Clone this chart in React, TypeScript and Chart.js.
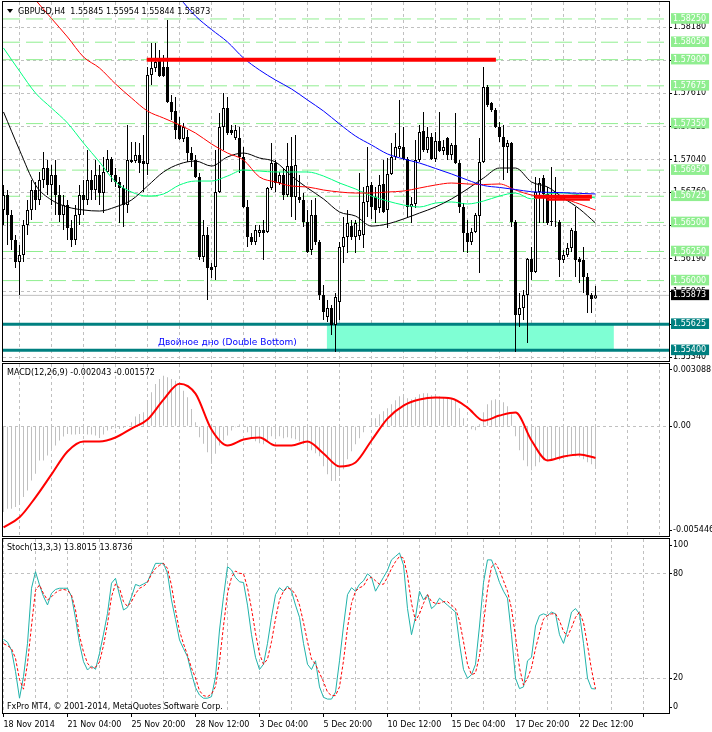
import React, { useEffect, useRef } from 'react';
import { Chart, registerables } from 'chart.js';

Chart.register(...registerables);

// ----------------------------- data -----------------------------
const SYMBOL = 'GBPUSD,H4';

const OPEN = [
  1.56607, 1.56736, 1.56564, 1.56349, 1.56160, 1.56220, 1.56478, 1.56607, 1.56779, 1.56693,
  1.56865, 1.56968, 1.56822, 1.56908, 1.56736, 1.56564, 1.56650, 1.56452, 1.56349, 1.56564,
  1.56736, 1.56693, 1.56865, 1.56779, 1.56908, 1.56753, 1.56934, 1.57046, 1.56908, 1.56848,
  1.56796, 1.56650, 1.57037, 1.57028, 1.57080, 1.57028, 1.57003, 1.57768, 1.57828, 1.57897,
  1.57837, 1.57837, 1.57536, 1.57458, 1.57338, 1.57218, 1.57235, 1.57097, 1.57037, 1.56891,
  1.56203, 1.56392, 1.56117, 1.56117, 1.56762, 1.57321, 1.57484, 1.57295, 1.57226, 1.57226,
  1.57063, 1.56633, 1.56375, 1.56332, 1.56409, 1.56435, 1.56418, 1.56796, 1.57011, 1.56839,
  1.56908, 1.56736, 1.56985, 1.56719, 1.56719, 1.56693, 1.56504, 1.56263, 1.56564, 1.56332,
  1.55876, 1.55687, 1.55764, 1.55618, 1.55816, 1.56289, 1.56375, 1.56469, 1.56375, 1.56383,
  1.56392, 1.56676, 1.56822, 1.56719, 1.56624, 1.56831, 1.56607, 1.56917, 1.57063, 1.57132,
  1.57149, 1.57046, 1.56633, 1.56659, 1.57037, 1.57286, 1.57123, 1.57235, 1.57046, 1.57200,
  1.57114, 1.57226, 1.57080, 1.57166, 1.57011, 1.56633, 1.56409, 1.56332, 1.56418, 1.56555,
  1.57020, 1.57665, 1.57527, 1.57467, 1.57321, 1.57235, 1.57149, 1.57183, 1.56504, 1.55704,
  1.55764, 1.55876, 1.56186, 1.56074, 1.56762, 1.56882, 1.56745, 1.56512, 1.56504, 1.56504,
  1.56177, 1.56220, 1.56280, 1.56426, 1.56186, 1.56177, 1.56031, 1.55876, 1.55845,
];
const HIGH = [
  1.56822, 1.56779, 1.56607, 1.56392, 1.56306, 1.56521, 1.56693, 1.56865, 1.56848, 1.56934,
  1.57106, 1.57037, 1.56994, 1.57037, 1.56822, 1.56736, 1.56693, 1.56521, 1.56650, 1.56822,
  1.56865, 1.57123, 1.56951, 1.57037, 1.56994, 1.57063, 1.57123, 1.57063, 1.56968, 1.56891,
  1.56822, 1.57338, 1.57192, 1.57192, 1.57183, 1.57252, 1.57837, 1.58043, 1.58043, 1.57983,
  1.57940, 1.58241, 1.57596, 1.57579, 1.57407, 1.57355, 1.57295, 1.57149, 1.57080, 1.56925,
  1.56521, 1.56461, 1.56151, 1.57123, 1.57441, 1.57613, 1.57579, 1.57338, 1.57338, 1.57321,
  1.57149, 1.56693, 1.56409, 1.56478, 1.56478, 1.56521, 1.56805, 1.57183, 1.57037, 1.56934,
  1.56968, 1.57183, 1.57235, 1.57252, 1.56908, 1.56753, 1.56607, 1.56693, 1.56710, 1.56349,
  1.55962, 1.55833, 1.55790, 1.55893, 1.56332, 1.56547, 1.56607, 1.56521, 1.56521, 1.56925,
  1.56805, 1.57149, 1.56848, 1.56805, 1.56908, 1.57037, 1.57054, 1.57183, 1.57269, 1.57553,
  1.57321, 1.57063, 1.56719, 1.57209, 1.57338, 1.57450, 1.57321, 1.57269, 1.57278, 1.57450,
  1.57209, 1.57235, 1.57183, 1.57441, 1.57037, 1.56667, 1.56521, 1.56452, 1.56581, 1.57226,
  1.57837, 1.57682, 1.57536, 1.57484, 1.57364, 1.57338, 1.57209, 1.57192, 1.56521, 1.55893,
  1.55919, 1.56194, 1.56289, 1.56891, 1.56882, 1.56908, 1.56805, 1.56977, 1.56891, 1.56521,
  1.56263, 1.56323, 1.56452, 1.56633, 1.56203, 1.56289, 1.56065, 1.55893, 1.55954,
];
const LOW = [
  1.56478, 1.56306, 1.56263, 1.56108, 1.55876, 1.56160, 1.56392, 1.56521, 1.56607, 1.56650,
  1.56796, 1.56736, 1.56650, 1.56564, 1.56504, 1.56435, 1.56349, 1.56289, 1.56306, 1.56478,
  1.56564, 1.56650, 1.56693, 1.56693, 1.56650, 1.56581, 1.56925, 1.56848, 1.56805, 1.56495,
  1.56461, 1.56581, 1.57011, 1.57011, 1.56925, 1.56762, 1.56908, 1.57682, 1.57794, 1.57751,
  1.57751, 1.57527, 1.57381, 1.57218, 1.57209, 1.57192, 1.57020, 1.56977, 1.56882, 1.56177,
  1.56160, 1.55833, 1.56022, 1.56005, 1.56753, 1.57123, 1.57252, 1.57252, 1.57209, 1.56925,
  1.56624, 1.56289, 1.56306, 1.56306, 1.56375, 1.56177, 1.56409, 1.56779, 1.56762, 1.56822,
  1.56693, 1.56719, 1.56547, 1.56521, 1.56667, 1.56461, 1.56237, 1.56220, 1.56306, 1.55833,
  1.55661, 1.55644, 1.55532, 1.55386, 1.55661, 1.56151, 1.56237, 1.56349, 1.56237, 1.56349,
  1.56280, 1.56547, 1.56530, 1.56495, 1.56581, 1.56581, 1.56452, 1.56908, 1.57037, 1.57063,
  1.57037, 1.56547, 1.56495, 1.56624, 1.57020, 1.57106, 1.57097, 1.57037, 1.57020, 1.57106,
  1.57080, 1.57037, 1.57037, 1.57003, 1.56581, 1.56246, 1.56237, 1.56306, 1.56409, 1.56065,
  1.57011, 1.57493, 1.57450, 1.57312, 1.57192, 1.56865, 1.56925, 1.56461, 1.55386, 1.55601,
  1.55661, 1.55463, 1.56005, 1.56065, 1.56495, 1.56495, 1.56478, 1.56469, 1.56461, 1.56031,
  1.56151, 1.56203, 1.56246, 1.56031, 1.55979, 1.55893, 1.55721, 1.55721, 1.55844,
];
const CLOSE = [
  1.56736, 1.56564, 1.56349, 1.56160, 1.56220, 1.56478, 1.56607, 1.56779, 1.56693, 1.56865,
  1.56968, 1.56822, 1.56908, 1.56736, 1.56564, 1.56650, 1.56452, 1.56349, 1.56564, 1.56736,
  1.56693, 1.56865, 1.56779, 1.56908, 1.56753, 1.56934, 1.57046, 1.56908, 1.56848, 1.56796,
  1.56650, 1.57037, 1.57020, 1.57080, 1.57011, 1.57003, 1.57768, 1.57828, 1.57880, 1.57759,
  1.57759, 1.57536, 1.57450, 1.57295, 1.57218, 1.57321, 1.57097, 1.57037, 1.56891, 1.56203,
  1.56392, 1.56108, 1.56091, 1.56762, 1.57321, 1.57484, 1.57269, 1.57269, 1.57295, 1.57063,
  1.56633, 1.56375, 1.56332, 1.56435, 1.56435, 1.56409, 1.56796, 1.57011, 1.56839, 1.56908,
  1.56736, 1.56985, 1.56719, 1.56994, 1.56693, 1.56504, 1.56246, 1.56564, 1.56332, 1.55876,
  1.55730, 1.55764, 1.55618, 1.55859, 1.56289, 1.56375, 1.56495, 1.56375, 1.56495, 1.56435,
  1.56676, 1.56813, 1.56633, 1.56607, 1.56822, 1.56590, 1.56917, 1.57063, 1.57149, 1.57157,
  1.57046, 1.56633, 1.56659, 1.57037, 1.57278, 1.57123, 1.57235, 1.57046, 1.57200, 1.57114,
  1.57149, 1.57080, 1.57166, 1.57011, 1.56633, 1.56409, 1.56332, 1.56418, 1.56564, 1.57020,
  1.57665, 1.57510, 1.57467, 1.57321, 1.57235, 1.57149, 1.57183, 1.56504, 1.55704, 1.55764,
  1.55876, 1.56186, 1.56074, 1.56762, 1.56839, 1.56745, 1.56495, 1.56504, 1.56508, 1.56177,
  1.56220, 1.56280, 1.56435, 1.56177, 1.56160, 1.56031, 1.55876, 1.55842, 1.55873,
];

// moving averages, one reading every MA_STEP bars (null = above the window)
const MA_STEP = 4;
const MA_BLUE = [
  null, null, null, null, null, null, null, null, null, null, null,
  1.58430, 1.58275, 1.58159, 1.58052, 1.57914, 1.57811, 1.57725, 1.57648, 1.57553, 1.57458,
  1.57347, 1.57243, 1.57166, 1.57089, 1.57046, 1.57011, 1.56964, 1.56917, 1.56865, 1.56818,
  1.56801, 1.56783, 1.56764, 1.56759, 1.56756, 1.56750, 1.56745,
];
const MA_RED = [
  null, null,
  1.58413, 1.58254, 1.58095, 1.57923, 1.57828, 1.57691, 1.57570, 1.57458, 1.57398, 1.57338,
  1.57269, 1.57175, 1.57097, 1.57037, 1.56891, 1.56848, 1.56813, 1.56805, 1.56779, 1.56762,
  1.56753, 1.56753, 1.56762, 1.56770, 1.56796, 1.56822, 1.56839, 1.56831, 1.56826, 1.56831,
  1.56779, 1.56736, 1.56719, 1.56702, 1.56659, 1.56607,
];
const MA_GREEN = [
  1.58000, 1.57802, 1.57613, 1.57484, 1.57355, 1.57183, 1.57020, 1.56848, 1.56762, 1.56727,
  1.56745, 1.56822, 1.56856, 1.56856, 1.56899, 1.56951, 1.56942, 1.56934, 1.56934, 1.56934,
  1.56899, 1.56839, 1.56788, 1.56727, 1.56684, 1.56650, 1.56633, 1.56667, 1.56676, 1.56659,
  1.56684, 1.56727, 1.56753, 1.56702, 1.56745, 1.56753, 1.56736, 1.56710,
];
const MA_BLACK = [
  1.57450, 1.57123, 1.56822, 1.56693, 1.56633, 1.56607, 1.56598, 1.56633, 1.56693, 1.56813,
  1.56934, 1.57003, 1.57028, 1.56985, 1.57063, 1.57097, 1.57054, 1.57020, 1.56899, 1.56796,
  1.56702, 1.56590, 1.56555, 1.56469, 1.56487, 1.56530, 1.56581, 1.56633, 1.56702, 1.56788,
  1.56882, 1.56968, 1.56968, 1.56848, 1.56805, 1.56710, 1.56616, 1.56495,
];

// horizontal levels and objects
const GREEN_LEVELS = [1.5825, 1.5805, 1.579, 1.57675, 1.5735, 1.5695, 1.56725, 1.565, 1.5625, 1.56];
const TEAL_LEVELS = [1.55625, 1.554];
const LAST_PRICE = 1.55873;
const PRICE_GRID_TICKS = [1.5818, 1.57895, 1.5761, 1.57325, 1.5704, 1.5676, 1.56475, 1.5619, 1.55905, 1.5562, 1.5534];
const RED_LINES = [
  { from: 35.8, to: 123.1, price: 1.579 },
  { from: 132.8, to: 147.1, price: 1.5672 },
  { from: 135.8, to: 146.6, price: 1.56695 },
];
const ZONE = { from: 80.8, to: 152.6, top: 1.55625, bottom: 1.554 };
const ZONE_TEXT = 'Двойное дно (Double Bottom)';

// MACD (12,26,9): main per bar, signal every MA_STEP bars
const MACD_MAIN = [
  -0.004257, -0.004092, -0.004092, -0.00401, -0.003845, -0.003515, -0.003185, -0.00269, -0.00236, -0.0017,
  -0.0017, -0.001452, -0.001205, -0.000957, -0.00071, -0.000512, -0.00038, -0.000413, -0.000413, -0.00038,
  -0.00038, -0.000413, -0.000413, -0.000462, -0.000578, -0.000413, -0.000215, -0.000132, -0.0001, -0.000132,
  -0.000083, 0.000033, 0.000198, 0.000479, 0.000611, 0.000693, 0.001271, 0.001683, 0.002096, 0.002343,
  0.002508, 0.002426, 0.002343, 0.002261, 0.002096, 0.001766, 0.001436, 0.000858, 0.000198, -0.000545,
  -0.000875, -0.001287, -0.001865, -0.00137, -0.000957, -0.00071, -0.000462, -0.000215, -0.00005, 0.000083,
  0, -0.000297, -0.000594, -0.000743, -0.000842, -0.000891, -0.000743, -0.000495, -0.000495, -0.000495,
  -0.000594, -0.000545, -0.000594, -0.000644, -0.000743, -0.000891, -0.001089, -0.001188, -0.001337, -0.001485,
  -0.00198, -0.002376, -0.002723, -0.002723, -0.002475, -0.002129, -0.001634, -0.001238, -0.000891, -0.000594,
  -0.000297, 0, 0.000248, 0.000396, 0.000594, 0.000743, 0.000891, 0.001089, 0.001287, 0.001485,
  0.001535, 0.001386, 0.001337, 0.001436, 0.001584, 0.001634, 0.001634, 0.001535, 0.001485, 0.001485,
  0.001436, 0.001386, 0.001386, 0.001337, 0.000891, 0.000396, 0.00005, -0.000149, -0.000198, 0.000099,
  0.000693, 0.001089, 0.001287, 0.001337, 0.001287, 0.001188, 0.00099, 0.000594, -0.000495, -0.001188,
  -0.001683, -0.00198, -0.002178, -0.00198, -0.001782, -0.001683, -0.001683, -0.001634, -0.001584, -0.001683,
  -0.001634, -0.001535, -0.001386, -0.001485, -0.001535, -0.001634, -0.001782, -0.001881, -0.002043,
];
const MACD_SIGNAL = [
  -0.005014, -0.004519, -0.003529, -0.002391, -0.001252, -0.000757, -0.000757, -0.000559, -0.000114, 0.000332,
  0.001322, 0.002114, 0.001619, -0.000163, -0.000955, -0.000658, -0.000559, -0.000955, -0.000955, -0.000757,
  -0.001351, -0.001995, -0.001797, -0.000708, 0.000381, 0.001025, 0.001322, 0.001421, 0.001371, 0.000926,
  0.000282, 0.00053, 0.000678, -0.000708, -0.001698, -0.0015, -0.001401, -0.001572,
];
const MACD_RANGE = { max: 0.003088, min: -0.005446 };

// Stochastic (13,3,3)
const STOCH_K = [
  42.3, 40.7, 36.0, 23.9, 8.5, 20.9, 40.0, 71.7, 81.2, 73.6,
  66.9, 62.1, 68.8, 71.0, 71.7, 71.7, 71.7, 66.9, 54.5, 40.0,
  29.5, 24.7, 27.0, 25.1, 34.3, 45.3, 57.3, 74.6, 77.4, 67.8,
  59.2, 60.7, 66.8, 73.9, 73.0, 74.2, 75.4, 80.7, 86.0, 86.0,
  86.0, 80.3, 64.9, 53.7, 42.0, 37.0, 32.3, 22.8, 14.6, 10.3,
  8.5, 8.5, 9.4, 20.9, 47.7, 66.8, 84.1, 82.2, 77.9, 75.4,
  75, 62, 45, 32, 25, 28, 40, 55, 68, 72,
  70, 73, 70, 62, 55, 40, 28, 25, 30, 15,
  9, 8, 8, 12, 30, 50, 68, 72, 70, 74,
  76, 80, 78, 70, 74, 78, 82, 88, 90, 92,
  85, 60, 45, 55, 70, 65, 68, 60, 62, 66,
  64, 62, 60, 58, 40, 25, 20, 22, 28, 50,
  75, 88, 88, 82, 75, 70, 66, 45, 20, 14,
  15, 30, 32, 50, 56, 57, 56, 58, 57, 45,
  40, 48, 58, 60, 57, 40, 20, 14, 13.8015,
];
const STOCH_D = [
  39.8, 38.8, 37.0, 31.4, 19.3, 13.7, 28.6, 50.0, 70.5, 73.6,
  68.6, 64.9, 66.8, 69.1, 70.5, 71.0, 70.5, 67.7, 59.3, 44.4,
  35.1, 28.6, 25.8, 26.3, 29.3, 38.8, 51.3, 66.8, 74.2, 71.7,
  64.0, 61.2, 64.0, 68.6, 71.7, 72.8, 75.1, 79.8, 83.1, 84.9,
  86.0, 83.1, 73.3, 59.3, 47.2, 39.8, 33.2, 25.8, 20.2, 12.8,
  10.0, 9.4, 10.9, 15.2, 29.5, 50.0, 68.6, 77.9, 81.6, 80.3,
  80, 72, 60, 46, 34, 28, 31, 41, 54, 65,
  70, 72, 71, 68, 62, 52, 41, 31, 28, 23,
  18, 12, 10, 10, 15, 30, 49, 63, 70, 72,
  73, 77, 78, 76, 74, 74, 78, 83, 87, 90,
  89, 79, 63, 53, 57, 63, 68, 64, 63, 63,
  64, 64, 62, 60, 53, 41, 28, 22, 23, 33,
  51, 71, 84, 86, 82, 76, 70, 60, 44, 26,
  16, 20, 26, 37, 46, 54, 56, 57, 57, 53,
  47, 44, 49, 55, 58, 52, 39, 25, 13.8736,
];
const STOCH_LABELS = ['100', '80', '20', '0'];

// time axis labels, one every LABEL_EVERY bars
const LABEL_EVERY = 16;
const GRID_EVERY = 8;
const X_LABELS = [
  '18 Nov 2014', '21 Nov 04:00', '25 Nov 20:00', '28 Nov 12:00', '3 Dec 04:00',
  '5 Dec 20:00', '10 Dec 12:00', '15 Dec 04:00', '17 Dec 20:00', '22 Dec 12:00',
];

// ----------------------------- layout -----------------------------
const W = 712;
const PLOT_LEFT = 3;
const AXIS_W = 43;
const BAR_PX = 4;
const X_MIN = -0.125;
const X_MAX = X_MIN + (W - PLOT_LEFT - AXIS_W) / BAR_PX;
const MAIN_TOP = 2, MAIN_H = 359;
const P_MAX = 1.583958;
const P_MIN = 1.553084;
const MACD_H = 172;
const STOCH_H = 174;
const FONT = { family: 'DejaVu Sans', size: 8 };
const GRID_COLOR = '#c0c0c0';
const CLEAR = 'rgba(0,0,0,0)';

const framePlugin = {
  id: 'frame',
  afterDraw(chart: any) {
    const { ctx, chartArea } = chart;
    ctx.save();
    ctx.strokeStyle = '#000';
    ctx.lineWidth = 1;
    ctx.strokeRect(chartArea.left - 0.5, chartArea.top - 0.5, chartArea.right - chartArea.left + 1, chartArea.bottom - chartArea.top + 1);
    ctx.restore();
  },
};

function xScale(showLabels: boolean): any {
  const gridIdx: number[] = [];
  for (let v = 0; v <= X_MAX; v += GRID_EVERY) gridIdx.push(v);
  return {
    type: 'linear',
    min: X_MIN,
    max: X_MAX,
    offset: false,
    afterBuildTicks: (s: any) => { s.ticks = gridIdx.map((v) => ({ value: v })); },
    afterFit: (s: any) => { s.height = showLabels ? 19 : 0; s.paddingLeft = 0; s.paddingRight = 0; },
    ticks: {
      display: showLabels,
      autoSkip: false,
      maxRotation: 0,
      minRotation: 0,
      align: 'start',
      padding: 3,
      color: '#000',
      font: FONT,
      callback: (v: number) => (v % LABEL_EVERY === 0 ? X_LABELS[v / LABEL_EVERY] ?? '' : ''),
    },
    grid: {
      color: GRID_COLOR,
      lineWidth: 1,
      drawTicks: showLabels,
      tickLength: 4,
      tickBorderDash: [],
      tickColor: (c: any) => (c.tick && c.tick.value % LABEL_EVERY === 0 ? '#000' : CLEAR),
    },
    border: { display: false, dash: [3, 3] },
  };
}

function yAxisBase(): any {
  return {
    position: 'right',
    afterFit: (s: any) => { s.width = AXIS_W; s.paddingTop = 0; s.paddingBottom = 0; },
    border: { display: false, dash: [3, 3] },
  };
}

const baseOptions: any = {
  responsive: false,
  animation: false,
  events: [],
  plugins: { legend: { display: false }, tooltip: { enabled: false } },
};

const hline = (price: number, from: number, to: number) => [{ x: from, y: price }, { x: to, y: price }];
const stepped = (vals: (number | null)[]) =>
  vals.map((v, k) => (v == null ? null : { x: k * MA_STEP, y: v })).filter(Boolean);

function mainConfig(): any {
  const tickKinds = [
    ...PRICE_GRID_TICKS.map((v) => ({ value: v, kind: 'grid' })),
    ...GREEN_LEVELS.map((v) => ({ value: v, kind: 'green' })),
    ...TEAL_LEVELS.map((v) => ({ value: v, kind: 'teal' })),
    { value: LAST_PRICE, kind: 'last' },
  ];
  const kind = (c: any) => (c && c.index != null && tickKinds[c.index] ? tickKinds[c.index].kind : 'grid');
  const boxColor: any = { green: '#90ee90', teal: '#008080', last: '#000000', grid: CLEAR };
  const line = (data: any, color: string, width: number, order: number, extra: any = {}) => ({
    type: 'line', data, borderColor: color, borderWidth: width, pointRadius: 0, fill: false, order, ...extra,
  });
  const maLine = (vals: any, color: string, order: number) =>
    line(stepped(vals), color, 1, order, { cubicInterpolationMode: 'monotone' });

  return {
    type: 'bar',
    data: {
      datasets: [
        {
          type: 'line', data: hline(ZONE.top, ZONE.from, ZONE.to), fill: { value: ZONE.bottom },
          backgroundColor: '#7fffd4', borderWidth: 0, pointRadius: 0, order: 30,
        },
        ...GREEN_LEVELS.map((p) => line(hline(p, X_MIN, X_MAX), '#90ee90', 1, 29, { borderDash: [17, 6] })),
        line(hline(LAST_PRICE, X_MIN, X_MAX), '#c0c0c0', 1, 28),
        ...TEAL_LEVELS.map((p) => line(hline(p, X_MIN, X_MAX), '#008080', 3, 27)),
        {
          type: 'bar', data: OPEN.map((_, i) => ({ x: i, y: [LOW[i], HIGH[i]] })),
          backgroundColor: '#000', borderWidth: 0, grouped: false, maxBarThickness: 1,
          categoryPercentage: 1, barPercentage: 1, inflateAmount: 0, order: 20,
        },
        {
          type: 'bar', data: OPEN.map((o, i) => ({ x: i, y: [o, CLOSE[i]] })),
          backgroundColor: (c: any) => (c.raw && c.raw.y && c.raw.y[1] >= c.raw.y[0] ? '#fff' : '#000'),
          borderColor: '#000', borderWidth: 1, borderSkipped: false, grouped: false, maxBarThickness: 3,
          categoryPercentage: 1, barPercentage: 1, inflateAmount: 0, order: 19,
        },
        maLine(MA_GREEN, '#00ff7f', 9),
        maLine(MA_BLACK, '#000000', 8),
        maLine(MA_RED, '#ff0000', 7),
        maLine(MA_BLUE, '#0000ff', 6),
        line(hline(RED_LINES[0].price, RED_LINES[0].from, RED_LINES[0].to), '#ff0000', 4, 2),
        line(hline(RED_LINES[1].price, RED_LINES[1].from, RED_LINES[1].to), '#ff0000', 4, 2),
        line(hline(RED_LINES[2].price, RED_LINES[2].from, RED_LINES[2].to), '#ff0000', 2, 2),
      ],
    },
    options: {
      ...baseOptions,
      layout: { padding: { left: PLOT_LEFT, right: 0, top: MAIN_TOP, bottom: 362 - MAIN_TOP - MAIN_H }, autoPadding: false },
      scales: {
        x: xScale(false),
        y: {
          ...yAxisBase(),
          type: 'linear',
          min: P_MIN,
          max: P_MAX,
          afterBuildTicks: (s: any) => { s.ticks = tickKinds.map((t) => ({ value: t.value })); },
          ticks: {
            autoSkip: false,
            padding: 1,
            font: FONT,
            color: (c: any) => (kind(c) === 'grid' ? '#000' : '#fff'),
            showLabelBackdrop: (c: any) => kind(c) !== 'grid',
            backdropColor: (c: any) => boxColor[kind(c)],
            backdropPadding: { left: 2, right: 3, top: 1, bottom: 0 },
            callback: (v: number) => Number(v).toFixed(5),
          },
          grid: {
            color: (c: any) => (kind(c) === 'grid' ? GRID_COLOR : CLEAR),
            tickColor: (c: any) => (kind(c) === 'grid' ? '#000' : CLEAR),
            tickLength: 3,
            tickBorderDash: [],
          },
        },
      },
    },
    plugins: [framePlugin],
  };
}

function macdConfig(): any {
  const perPx = (MACD_RANGE.max - MACD_RANGE.min) / MACD_H;
  const tickVals = [MACD_RANGE.max - 6 * perPx, 0, MACD_RANGE.min + 6 * perPx];
  const tickText = [MACD_RANGE.max.toFixed(6), '0.00', MACD_RANGE.min.toFixed(6)];
  return {
    type: 'bar',
    data: {
      datasets: [
        {
          type: 'bar', data: MACD_MAIN.map((v, i) => ({ x: i, y: v })), backgroundColor: '#c0c0c0',
          borderWidth: 0, grouped: false, maxBarThickness: 1, categoryPercentage: 1, barPercentage: 1,
          inflateAmount: 0, order: 2,
        },
        {
          type: 'line', data: stepped(MACD_SIGNAL), borderColor: '#ff0000', borderWidth: 2, pointRadius: 0,
          fill: false, cubicInterpolationMode: 'monotone', order: 1,
        },
      ],
    },
    options: {
      ...baseOptions,
      layout: { padding: { left: PLOT_LEFT, right: 0, top: 2, bottom: 1 }, autoPadding: false },
      scales: {
        x: xScale(false),
        y: {
          ...yAxisBase(),
          type: 'linear',
          min: MACD_RANGE.min,
          max: MACD_RANGE.max,
          afterBuildTicks: (s: any) => { s.ticks = tickVals.map((v) => ({ value: v })); },
          ticks: {
            autoSkip: false, padding: 1, font: FONT, color: '#000',
            callback: (_v: number, i: number) => tickText[i],
          },
          grid: {
            color: (c: any) => (c.index === 1 ? GRID_COLOR : CLEAR),
            tickColor: '#000', tickLength: 3, tickBorderDash: [],
          },
        },
      },
    },
    plugins: [framePlugin],
  };
}

function stochConfig(): any {
  const perPx = 100 / STOCH_H;
  const tickVals = [100 - 6 * perPx, 80, 20, 6 * perPx];
  return {
    type: 'line',
    data: {
      datasets: [
        {
          data: STOCH_K.map((v, i) => ({ x: i, y: v })), borderColor: '#20b2aa', borderWidth: 1,
          pointRadius: 0, fill: false, order: 2,
        },
        {
          data: STOCH_D.map((v, i) => ({ x: i, y: v })), borderColor: '#ff0000', borderWidth: 1,
          borderDash: [3, 2], pointRadius: 0, fill: false, order: 1,
        },
      ],
    },
    options: {
      ...baseOptions,
      layout: { padding: { left: PLOT_LEFT, right: 0, top: 2, bottom: 0 }, autoPadding: false },
      scales: {
        x: xScale(true),
        y: {
          ...yAxisBase(),
          type: 'linear',
          min: 0,
          max: 100,
          afterBuildTicks: (s: any) => { s.ticks = tickVals.map((v) => ({ value: v })); },
          ticks: {
            autoSkip: false, padding: 1, font: FONT, color: '#000',
            callback: (_v: number, i: number) => STOCH_LABELS[i],
          },
          grid: {
            color: (c: any) => (c.index === 1 || c.index === 2 ? GRID_COLOR : CLEAR),
            tickColor: '#000', tickLength: 3, tickBorderDash: [],
          },
        },
      },
    },
    plugins: [framePlugin],
  };
}

const textStyle = (left: number, top: number, extra: any = {}): any => ({
  position: 'absolute', left, top, font: '8px "DejaVu Sans"', lineHeight: 'normal',
  whiteSpace: 'pre', color: '#000', pointerEvents: 'none', ...extra,
});

export default function App() {
  const mainRef = useRef<HTMLCanvasElement>(null);
  const macdRef = useRef<HTMLCanvasElement>(null);
  const stochRef = useRef<HTMLCanvasElement>(null);

  useEffect(() => {
    const charts = [
      new Chart(mainRef.current as HTMLCanvasElement, mainConfig()),
      new Chart(macdRef.current as HTMLCanvasElement, macdConfig()),
      new Chart(stochRef.current as HTMLCanvasElement, stochConfig()),
    ];
    return () => charts.forEach((c) => c.destroy());
  }, []);

  const last = OPEN.length - 1;
  const title = `${SYMBOL}  ${OPEN[last].toFixed(5)} ${HIGH[last].toFixed(5)} ${LOW[last].toFixed(5)} ${CLOSE[last].toFixed(5)}`;
  const macdText = `MACD(12,26,9) ${MACD_MAIN[MACD_MAIN.length - 1].toFixed(6)} ${MACD_SIGNAL[MACD_SIGNAL.length - 1].toFixed(6)}`;
  const stochText = `Stoch(13,3,3) ${STOCH_K[STOCH_K.length - 1].toFixed(4)} ${STOCH_D[STOCH_D.length - 1].toFixed(4)}`;

  return (
    <div style={{ position: 'absolute', left: 0, top: 0, width: W, height: 732, background: '#fff', overflow: 'hidden' }}>
      <canvas ref={mainRef} width={W} height={362} style={{ position: 'absolute', left: 0, top: 0 }} />
      <canvas ref={macdRef} width={W} height={175} style={{ position: 'absolute', left: 0, top: 362 }} />
      <canvas ref={stochRef} width={W} height={195} style={{ position: 'absolute', left: 0, top: 537 }} />
      <div style={{ position: 'absolute', left: 7, top: 9, width: 0, height: 0, borderLeft: '3px solid transparent', borderRight: '3px solid transparent', borderTop: '4px solid #000' }} />
      <div style={textStyle(18, 7)}>{title}</div>
      <div style={textStyle(158, 337, { font: '9px "DejaVu Sans"', color: '#0000ff' })}>{ZONE_TEXT}</div>
      <div style={textStyle(7, 368)}>{macdText}</div>
      <div style={textStyle(7, 543)}>{stochText}</div>
      <div style={textStyle(7, 702)}>FxPro MT4, © 2001-2014, MetaQuotes Software Corp.</div>
    </div>
  );
}
